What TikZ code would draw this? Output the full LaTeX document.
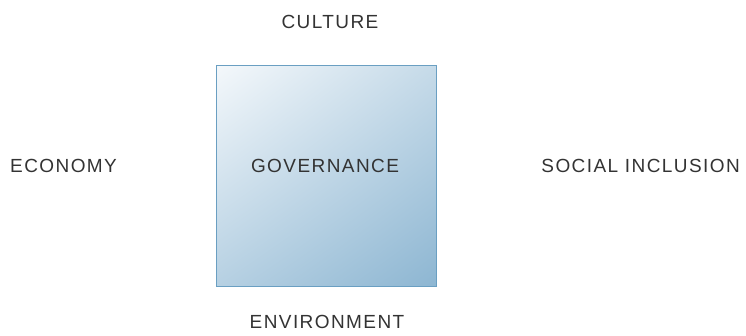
\documentclass[tikz,border=0pt]{standalone}
\usepackage{fontspec}
\usetikzlibrary{shadings}
\setmainfont{Liberation Sans}[LetterSpace=7.5]
\definecolor{txt}{HTML}{333333}
\definecolor{edge}{HTML}{6A9FC2}
\definecolor{light}{HTML}{F4F8FB}
\definecolor{dark}{HTML}{8DB6D2}
\begin{document}
\begin{tikzpicture}[x=1pt,y=-1pt,
  lbl/.style={text=txt,font=\fontsize{19}{22}\selectfont,inner sep=0pt}]
\useasboundingbox (0,0) rectangle (746,335);
\shade[upper left=light, upper right=dark!45!light, lower left=dark!60!light, lower right=dark, draw=edge, line width=1pt]
  (216.5,65.5) rectangle (436.5,286);
\node[lbl] (gov) at (325,166) {GOVERNANCE};
\node[lbl] (cul) at (330,22) {CULTURE};
\node[lbl,anchor=west] (eco) at (10,166) {ECONOMY};
\node[lbl,anchor=east] (soc) at (740,166) {SOCIAL INCLUSION};
\node[lbl] (env) at (327,322) {ENVIRONMENT};
\end{tikzpicture}
\end{document}
